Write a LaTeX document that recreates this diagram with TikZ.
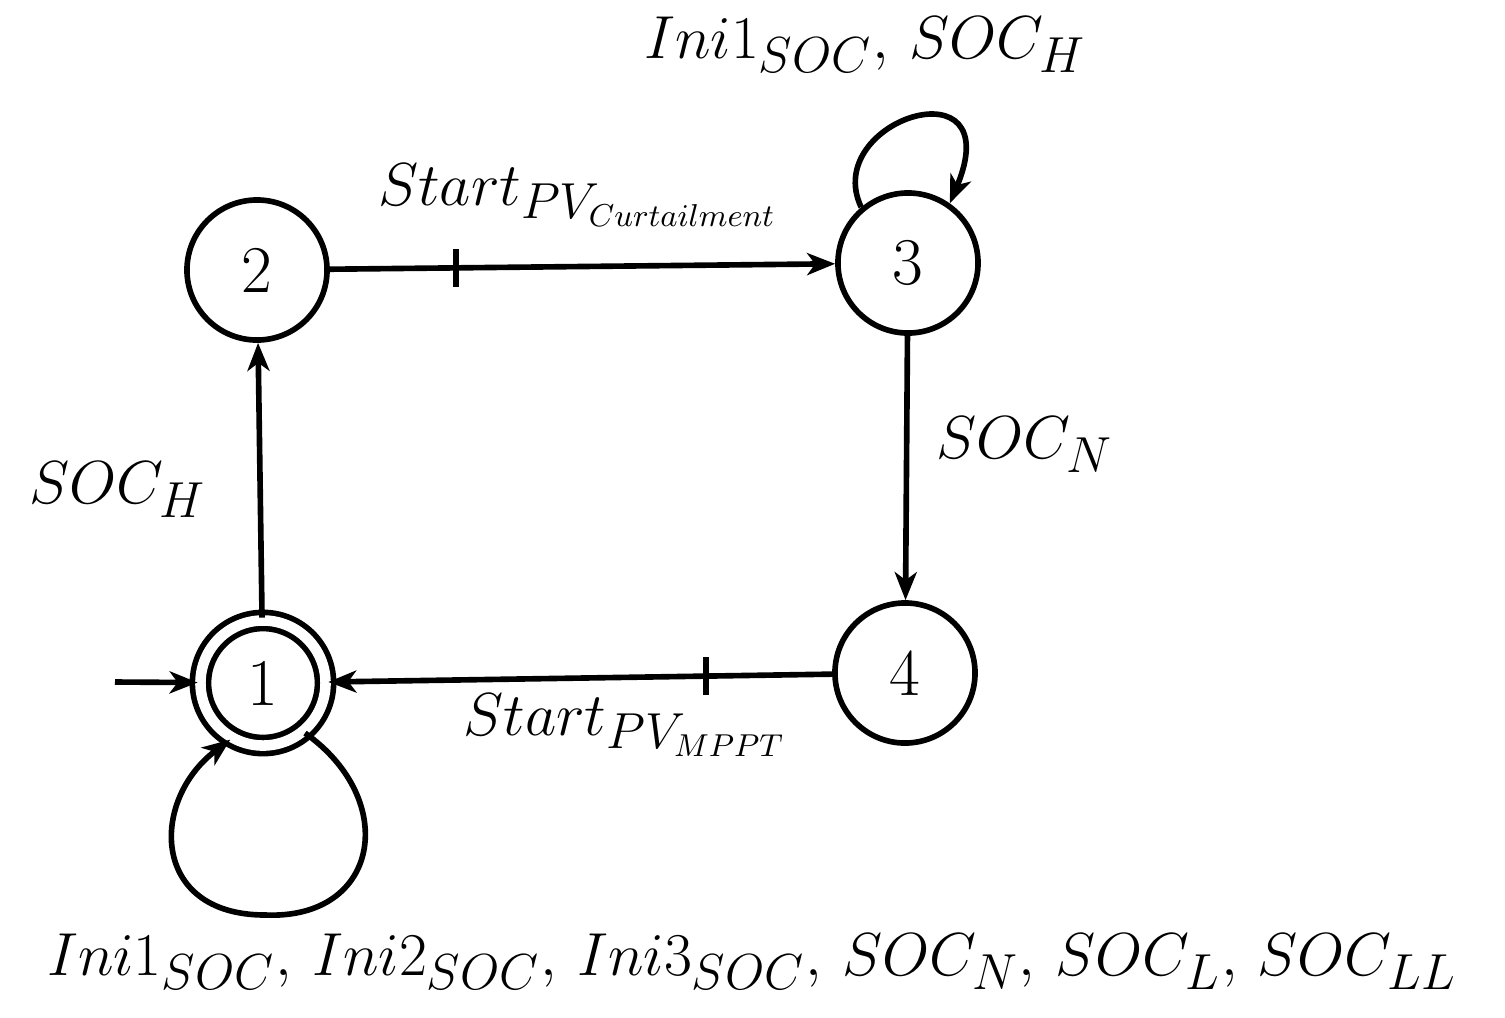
\documentclass[tikz,border=0pt]{standalone}
\usetikzlibrary{arrows.meta}
\begin{document}
\begin{tikzpicture}[x=0.01cm,y=-0.01cm,
  st/.style={circle,draw,line width=1.6pt,minimum size=1.4cm,inner sep=0pt,font=\fontsize{19}{22}\selectfont},
  edge/.style={line width=1.6pt,-{Stealth[length=0.28cm,width=0.22cm,inset=0.08cm]}},
  lbl/.style={font=\fontsize{19}{22}\selectfont},
  tk/.style={line width=1.6pt}]
\useasboundingbox (0,0) rectangle (1505,1017);
\node[st,double,double distance=3pt,minimum size=1.25cm] (n1) at (263,683) {1};
\node[st] (n2) at (257,270) {2};
\node[st] (n3) at (908,263) {3};
\node[st] (n4) at (905,673) {4};
\coordinate (init) at (115,682);
\draw[edge] (init) -- (n1);
\draw[edge] (n1) -- (n2);
\draw[edge] (n2) -- coordinate[pos=0.25] (t1) (n3);
\draw[tk] ([yshift=-0.19cm]t1) -- ([yshift=0.19cm]t1);
\draw[edge] (n3) -- (n4);
\draw[edge] (n4) -- coordinate[pos=0.25] (t2) (n1);
\draw[tk] ([yshift=-0.19cm]t2) -- ([yshift=0.19cm]t2);
\draw[edge] (n3.130) .. controls (820,120) and (1010,60) .. (n3.55);
\draw[edge] (n1.-50) .. controls (400,800) and (380,920) .. (265,915) .. controls (150,915) and (150,800) .. (n1.-120);
\node[lbl] at (865,45) {$Ini1_{SOC},\,SOC_H$};
\node[lbl] at (578,195) {$Start_{PV_{Curtailment}}$};
\node[lbl] at (1025,445) {$SOC_N$};
\node[lbl] at (118,490) {$SOC_H$};
\node[lbl] at (625,725) {$Start_{PV_{MPPT}}$};
\node[lbl] at (752,962) {$Ini1_{SOC},\,Ini2_{SOC},\,Ini3_{SOC},\,SOC_N,\,SOC_L,\,SOC_{LL}$};
\end{tikzpicture}
\end{document}
